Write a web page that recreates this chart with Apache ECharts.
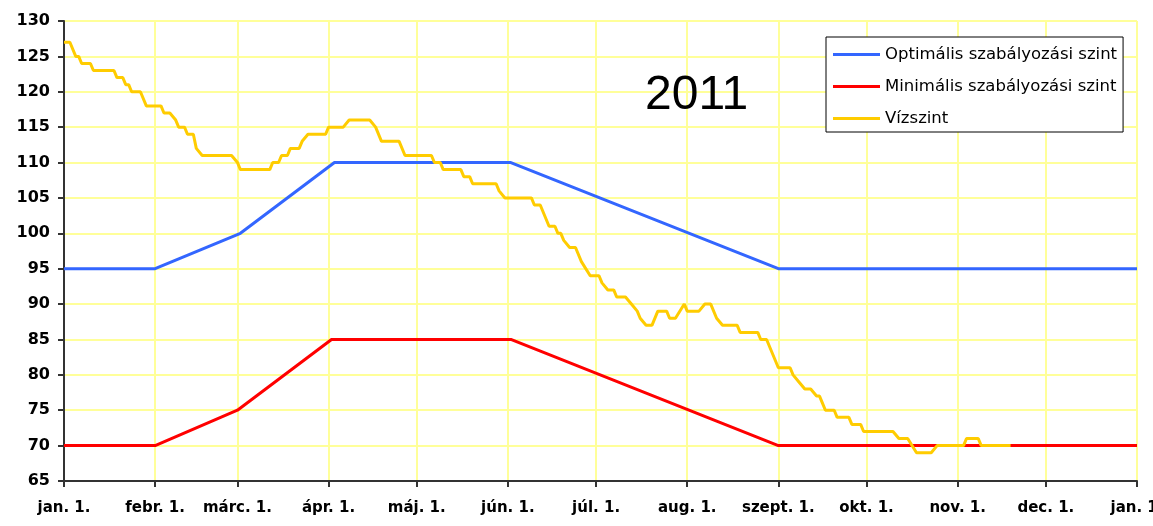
<!DOCTYPE html>
<html>
<head>
<meta charset="utf-8">
<script src="https://cdn.jsdelivr.net/npm/echarts@6/dist/echarts.min.js"></script>
<style>
html,body{margin:0;padding:0;background:#fff;}
#chart{width:1153px;height:526px;}
</style>
</head>
<body>
<div id="chart"></div>
<script>
// Day index (0 = jan. 1., 365 = next jan. 1.) of each month start, and its label
var monthStarts = [0, 31, 59, 90, 120, 151, 181, 212, 243, 273, 304, 334, 365];
var monthLabels = ['jan. 1.', 'febr. 1.', 'márc. 1.', 'ápr. 1.', 'máj. 1.', 'jún. 1.', 'júl. 1.', 'aug. 1.', 'szept. 1.', 'okt. 1.', 'nov. 1.', 'dec. 1.', 'jan. 1.'];

// Series as [day, level] points
var optimalis = [[0,95],[31,95],[60,100],[92,110],[152,110],[243,95],[365,95]];
var minimalis = [[0,70],[31,70],[59,75],[91,85],[152,85],[243,70],[365,70]];
var vizszint = [[0,127],[2,127],[4,125],[5,125],[6,124],[9,124],[10,123],[17,123],[18,122],[20,122],[21,121],[22,121],[23,120],[26,120],[28,118],[33,118],[34,117],[36,117],[38,116],[39,115],[41,115],[42,114],[44,114],[45,112],[47,111],[57,111],[59,110],[60,109],[70,109],[71,110],[73,110],[74,111],[76,111],[77,112],[80,112],[81,113],[83,114],[89,114],[90,115],[95,115],[97,116],[104,116],[106,115],[108,113],[114,113],[116,111],[125,111],[126,110],[128,110],[129,109],[135,109],[136,108],[138,108],[139,107],[147,107],[148,106],[150,105],[159,105],[160,104],[162,104],[165,101],[167,101],[168,100],[169,100],[170,99],[172,98],[174,98],[176,96],[179,94],[182,94],[183,93],[185,92],[187,92],[188,91],[191,91],[193,90],[195,89],[196,88],[198,87],[200,87],[202,89],[205,89],[206,88],[208,88],[211,90],[212,89],[216,89],[218,90],[220,90],[222,88],[224,87],[229,87],[230,86],[236,86],[237,85],[239,85],[243,81],[247,81],[248,80],[250,79],[252,78],[254,78],[256,77],[257,77],[258,76],[259,75],[262,75],[263,74],[267,74],[268,73],[271,73],[272,72],[282,72],[284,71],[287,71],[290,69],[295,69],[297,70],[306,70],[307,71],[311,71],[312,70],[322,70]];

var yTicks = {min: 65, max: 130, interval: 5};

var days = [];
for (var d = 0; d <= 365; d++) days.push(String(d));
function isMonthStart(i) { return monthStarts.indexOf(i) >= 0; }

var chart = echarts.init(document.getElementById('chart'), null, {renderer: 'canvas'});
chart.setOption({
  animation: false,
  backgroundColor: '#fff',
  grid: {left: 64, right: 16, top: 21, bottom: 45, outerBoundsMode: 'none', containLabel: false, show: true, borderColor: '#a0a0a0', borderWidth: 1, backgroundColor: 'transparent'},
  legend: {
    orient: 'vertical', left: 826, top: 37,
    backgroundColor: '#fff', borderColor: '#000', borderWidth: 1,
    padding: [9, 6, 5, 7], itemGap: 15, itemWidth: 47, itemHeight: 3, icon: 'rect',
    textStyle: {fontFamily: 'DejaVu Sans', fontSize: 16.5, color: '#000'},
    data: ['Optimális szabályozási szint', 'Minimális szabályozási szint', 'Vízszint']
  },
  xAxis: {
    type: 'category', data: days, boundaryGap: false,
    axisLine: {lineStyle: {color: '#333', width: 2}},
    axisTick: {interval: function (i) { return isMonthStart(i); }, length: 6, lineStyle: {color: '#333', width: 2}},
    axisLabel: {
      interval: function (i) { return isMonthStart(i); },
      formatter: function (v, i) { var k = monthStarts.indexOf(Number(v)); return k >= 0 ? monthLabels[k] : ''; },
      margin: 20, fontFamily: 'DejaVu Sans', fontWeight: 'bold', fontSize: 15, color: '#000'
    },
    splitLine: {show: true, interval: function (i) { return isMonthStart(i); }, lineStyle: {color: '#ffff99', width: 2}}
  },
  yAxis: {
    type: 'value', min: yTicks.min, max: yTicks.max, interval: yTicks.interval,
    axisLine: {show: true, lineStyle: {color: '#333', width: 2}},
    axisTick: {show: true, length: 6, lineStyle: {color: '#333', width: 2}},
    axisLabel: {margin: 14, fontFamily: 'DejaVu Sans', fontWeight: 'bold', fontSize: 16, color: '#000'},
    splitLine: {show: true, lineStyle: {color: '#ffff99', width: 2}}
  },
  series: [
    {name: 'Optimális szabályozási szint', type: 'line', data: optimalis, symbol: 'none', lineStyle: {color: '#3366ff', width: 3}, itemStyle: {color: '#3366ff'}},
    {name: 'Minimális szabályozási szint', type: 'line', data: minimalis, symbol: 'none', lineStyle: {color: '#ff0000', width: 3}, itemStyle: {color: '#ff0000'}},
    {name: 'Vízszint', type: 'line', data: vizszint, symbol: 'none', lineStyle: {color: '#ffcc00', width: 3}, itemStyle: {color: '#ffcc00'}}
  ],
  graphic: [
    {type: 'text', left: 645, top: 72, z: 100, style: {text: '2011', fontFamily: 'Liberation Sans', fontSize: 48, fill: '#000'}}
  ]
});
</script>
</body>
</html>
